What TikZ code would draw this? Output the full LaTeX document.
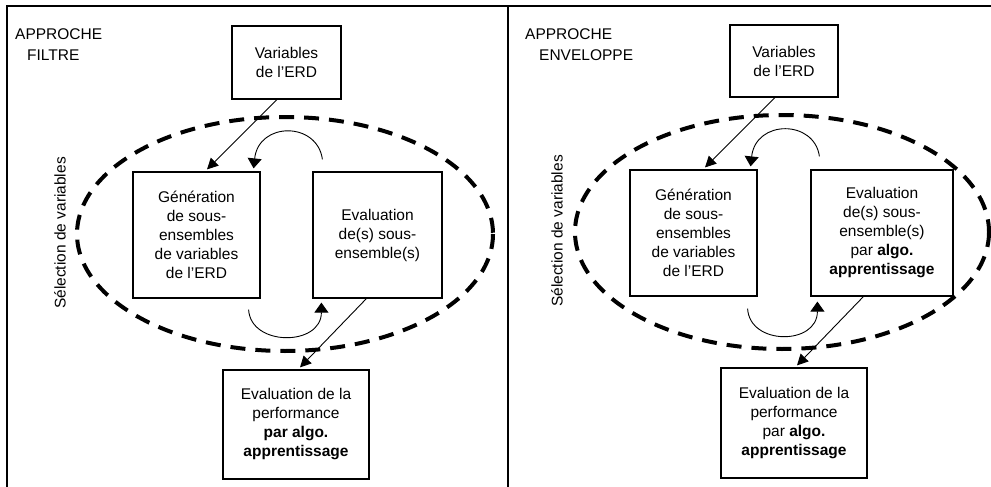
\documentclass[tikz,border=0pt]{standalone}
\usepackage{fontspec}
\setmainfont{Liberation Sans}
\usetikzlibrary{calc,arrows.meta}
\begin{document}
\begin{tikzpicture}[x=1pt,y=-1pt,
  txt/.style={font=\fontsize{15.5}{19}\selectfont},
  box/.style={txt,draw,line width=1.2pt,align=center,inner sep=0pt},
  conn/.style={line width=0.9pt,-{Triangle[length=11pt,width=11pt]}},
  loop/.style={line width=0.9pt,-{Triangle[length=10pt,width=14pt]}},
  ell/.style={line width=4pt,dash pattern=on 15pt off 10pt},
  frame/.style={line width=1.8pt}
]
\useasboundingbox (0,0) rectangle (991,487);
% frame
\draw[frame] (7,487) -- (7,6) -- (991,6);
\draw[frame] (508,6) -- (508,487);

% ---------- left panel ----------
\node[txt,anchor=base west,inner sep=0pt] (t1a) at (15,40) {APPROCHE};
\node[txt,anchor=base west,inner sep=0pt] (t1b) at (27,60) {FILTRE};
\node[txt,rotate=90,inner sep=0pt] (s1) at (60,233) {Sélection de variables};
\draw[ell] (285,234) ellipse [x radius=208,y radius=117];
\node[box,minimum width=109pt,minimum height=73pt] (var1) at (286.5,62.5) {Variables\\de l'ERD};
\node[box,minimum width=127pt,minimum height=126pt] (gen1) at (196.5,235) {Génération\\de sous-\\ensembles\\de variables\\de l'ERD};
\node[box,minimum width=129pt,minimum height=126pt] (eva1) at (377.5,235) {Evaluation\\de(s) sous-\\ensemble(s)};
\node[box,minimum width=146pt,minimum height=109pt] (perf1) at (296,424.5) {Evaluation de la\\performance\\\textbf{par algo.}\\\textbf{apprentissage}};
\draw[conn] ($(var1.south)+(-9.5,0)$) -- ($(gen1.north)+(10.5,-2)$);
\draw[loop] ($(eva1.north west)+(10,-12)$) .. controls ($(eva1.north west)+(5,-50)$) and ($(gen1.north east)+(-2,-50)$) .. ($(gen1.north east)+(-7,-3)$);
\draw[loop] ($(gen1.south east)+(-12,11)$) .. controls ($(gen1.south east)+(-10,48)$) and ($(eva1.south west)+(9,48)$) .. ($(eva1.south west)+(9,4)$);
\draw[conn] ($(eva1.south west)+(54,0)$) -- ($(perf1.north)+(4,-2)$);

% ---------- right panel ----------
\node[txt,anchor=base west,inner sep=0pt] (t2a) at (525,40) {APPROCHE};
\node[txt,anchor=base west,inner sep=0pt] (t2b) at (539,60) {ENVELOPPE};
\node[txt,rotate=90,inner sep=0pt] (s2) at (557,231) {Sélection de variables};
\draw[ell] (782,232) ellipse [x radius=207,y radius=117];
\node[box,minimum width=108pt,minimum height=72pt] (var2) at (784,61) {Variables\\de l'ERD};
\node[box,minimum width=127pt,minimum height=126pt] (gen2) at (693.5,233) {Génération\\de sous-\\ensembles\\de variables\\de l'ERD};
\node[box,minimum width=142pt,minimum height=126pt] (eva2) at (882,233) {Evaluation\\de(s) sous-\\ensemble(s)\\par \textbf{algo.}\\\textbf{apprentissage}};
\node[box,minimum width=146pt,minimum height=110pt] (perf2) at (794,423) {Evaluation de la\\performance\\par \textbf{algo.}\\\textbf{apprentissage}};
\draw[conn] ($(var2.south)+(-9,0)$) -- ($(gen2.north)+(11.5,-2)$);
\draw[loop] ($(eva2.north west)+(9,-13)$) .. controls ($(eva2.north west)+(4,-50)$) and ($(gen2.north east)+(-2,-50)$) .. ($(gen2.north east)+(-7,-3)$);
\draw[loop] ($(gen2.south east)+(-10,12)$) .. controls ($(gen2.south east)+(-8,49)$) and ($(eva2.south west)+(7,49)$) .. ($(eva2.south west)+(7,5)$);
\draw[conn] ($(eva2.south west)+(53,0)$) -- ($(perf2.north)+(3,-2)$);
\end{tikzpicture}
\end{document}
